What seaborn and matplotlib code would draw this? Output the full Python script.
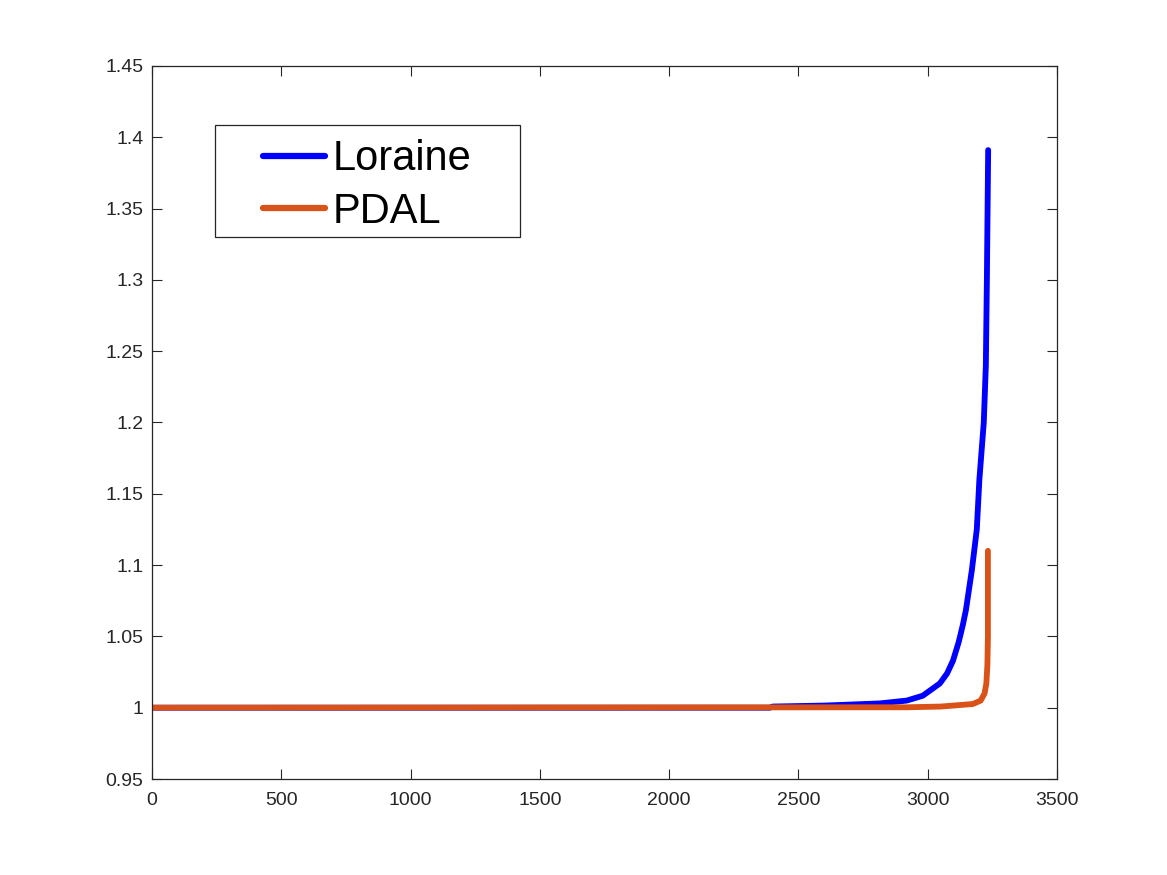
import seaborn as sns
import matplotlib.pyplot as plt
import matplotlib.ticker as ticker
from matplotlib.patches import Rectangle
import pandas as pd

# sorted ratio curves (sample index -> value)
loraine_idx = [1, 2390, 2400, 2600, 2815, 2919, 2981, 3047, 3075, 3098, 3120, 3136, 3148,
               3171, 3190, 3200, 3217, 3225, 3229, 3234]
loraine_val = [1.0, 1.0, 1.0008, 1.0015, 1.003, 1.005, 1.0084, 1.017, 1.024, 1.033, 1.046, 1.058, 1.0685,
               1.0966, 1.125, 1.16, 1.2, 1.24, 1.3, 1.391]
pdal_idx = [1, 2920, 3050, 3175, 3205, 3220, 3227, 3231, 3233, 3233]
pdal_val = [1.0, 1.0003, 1.0008, 1.0026, 1.005, 1.010, 1.017, 1.03, 1.05, 1.11]

series_names = ['Loraine', 'PDAL']
series_colors = ['#0000FF', '#D95319']

x_ticks = [0, 500, 1000, 1500, 2000, 2500, 3000, 3500]
y_ticks = [0.95, 1.0, 1.05, 1.1, 1.15, 1.2, 1.25, 1.3, 1.35, 1.4, 1.45]

df = pd.concat([
    pd.DataFrame({'idx': loraine_idx, 'val': loraine_val, 'method': 'Loraine'}),
    pd.DataFrame({'idx': pdal_idx, 'val': pdal_val, 'method': 'PDAL'}),
])

sns.set_style("white")
plt.rcParams['font.family'] = ['Liberation Sans', 'DejaVu Sans']

fig = plt.figure(figsize=(11.67, 8.75), dpi=100)
ax = fig.add_axes([0.1302, 0.1097, 0.7755, 0.8149])

sns.lineplot(data=df, x='idx', y='val', hue='method', hue_order=series_names,
             palette=series_colors, sort=False, estimator=None, linewidth=4.2, ax=ax)

ax.set_xlim(0, 3500)
ax.set_ylim(0.95, 1.45)
ax.set_xticks(x_ticks)
ax.set_yticks(y_ticks)
ax.yaxis.set_major_formatter(ticker.FormatStrFormatter('%g'))
ax.set_xlabel('')
ax.set_ylabel('')

edge = '#262626'
for s in ax.spines.values():
    s.set_visible(True)
    s.set_color(edge)
    s.set_linewidth(0.9)
ax.tick_params(direction='in', length=7, width=0.8, colors=edge, labelsize=14,
               top=True, right=True, bottom=True, left=True)
ax.tick_params(axis='y', pad=6)
ax.tick_params(axis='x', pad=9.5)

# legend: matlab style box with wide side padding
leg = ax.legend(loc='upper left', bbox_to_anchor=(0.1227, 0.897), borderaxespad=0,
                borderpad=0, fontsize=30, frameon=False, labelcolor='black',
                handlelength=1.5, handletextpad=0.17, labelspacing=0.3, title=None)
for line in leg.get_lines():
    line.set_linewidth(4.5)
ax.add_patch(Rectangle((0.0696, 0.7602), 0.337, 0.1571, transform=ax.transAxes,
                       fill=True, facecolor='white', edgecolor=edge, linewidth=0.9, zorder=4))
leg.set_zorder(5)

fig.savefig('out.png', dpi=100)
